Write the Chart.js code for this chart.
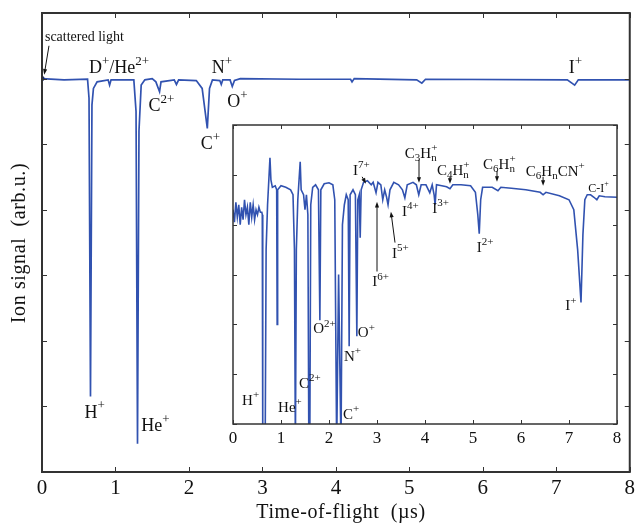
<!DOCTYPE html>
<html>
<head>
<meta charset="utf-8">
<script src="https://cdn.jsdelivr.net/npm/chart.js@4/dist/chart.umd.min.js"></script>
<style>
  body { margin: 0; background: #fff; }
  #wrap { position: relative; width: 639px; height: 523px; }
  #mainChart { position: absolute; left: 0; top: 0; }
  #insetChart { position: absolute; left: 200px; top: 112px; }
</style>
</head>
<body>
<div id="wrap">
  <canvas id="mainChart" width="639" height="523"></canvas>
  <canvas id="insetChart" width="430" height="345"></canvas>
</div>
<script>
// main spectrum (time in us, signal in arb.u., baseline = 0)
const mainTime = [0.00, 0.30, 0.62, 0.64, 0.66, 0.68, 0.70, 0.75, 0.90, 0.92, 0.94, 1.25, 1.28, 1.30, 1.32, 1.35, 1.40,
  1.50, 1.55, 1.60, 1.62, 1.80, 1.83, 1.86, 2.10, 2.18, 2.25, 2.28, 2.32, 2.42, 2.44, 2.46, 2.56, 2.59, 2.62, 2.70,
  3.50, 4.20, 4.22, 4.25, 5.10, 5.17, 5.22, 7.15, 7.25, 7.30, 8.00];
const mainSignal = [0.00, -0.02, -0.01, -0.3, -4.85, -0.4, -0.15, -0.05, -0.02, -0.1, -0.02, -0.02, -0.5, -5.57, -0.8, -0.1, -0.02,
  0.0, -0.05, -0.2, -0.05, -0.02, -0.09, -0.02, -0.03, -0.15, -0.76, -0.15, -0.02, -0.03, -0.09, -0.02, -0.02, -0.12, -0.03, 0.0,
  -0.01, -0.01, -0.05, 0.0, -0.02, -0.07, -0.01, -0.02, -0.1, -0.02, -0.02];

// inset spectrum (zoomed signal)
const insetTime = [0.00, 0.03, 0.06, 0.09, 0.12, 0.15, 0.18, 0.21, 0.24, 0.27, 0.30, 0.33, 0.36, 0.39, 0.42, 0.45, 0.48, 0.51,
  0.54, 0.57, 0.60, 0.61, 0.62, 0.64, 0.67, 0.69, 0.72, 0.77, 0.79, 0.82, 0.88, 0.91, 0.92, 0.93, 1.00, 1.10, 1.20, 1.25,
  1.28, 1.30, 1.32, 1.35, 1.40, 1.42, 1.47, 1.50, 1.53, 1.56, 1.58, 1.60, 1.62, 1.66, 1.72, 1.78, 1.81, 1.83, 1.90, 2.00,
  2.08, 2.12, 2.16, 2.20, 2.25, 2.28, 2.32, 2.36, 2.40, 2.42, 2.44, 2.50, 2.55, 2.58, 2.60, 2.63, 2.65, 2.67, 2.72, 2.80,
  2.88, 2.92, 2.98, 3.02, 3.08, 3.12, 3.16, 3.20, 3.23, 3.27, 3.35, 3.45, 3.53, 3.58, 3.63, 3.75, 3.82, 3.87, 3.92, 4.02,
  4.10, 4.15, 4.19, 4.21, 4.24, 4.35, 4.45, 4.52, 4.58, 4.75, 4.95, 5.05, 5.10, 5.13, 5.16, 5.20, 5.40, 5.52, 5.58, 5.80,
  6.10, 6.40, 6.46, 6.52, 6.80, 7.00, 7.10, 7.18, 7.25, 7.29, 7.33, 7.38, 7.45, 7.52, 7.58, 7.63, 7.75, 8.00];
const insetSignal = [-0.7, -0.95, -0.55, -0.85, -0.6, -1.0, -0.65, -0.9, -0.5, -0.8, -0.65, -1.0, -0.55, -0.85, -0.6, -0.9, -0.7, -0.8,
  -0.65, -0.75, -0.75, -0.8, -5.5, -5.5, -5.5, -1.5, -0.6, 0.34, -0.1, -0.25, -0.22, -0.3, -3.0, -0.3, -0.22, -0.25, -0.3, -0.4,
  -1.5, -5.5, -1.5, -0.5, 0.26, -0.3, -0.4, -0.7, -0.4, -0.8, -5.5, -5.5, -0.6, -0.25, -0.2, -0.3, -2.92, -0.3, -0.18, -0.16,
  -0.2, -0.5, -5.5, -2.0, -5.5, -1.0, -0.6, -0.4, -0.5, -3.44, -0.4, -0.3, -0.4, -3.24, -0.5, -0.4, -1.26, -0.3, -0.15, -0.12,
  -0.2, -0.15, -0.36, -0.15, -0.2, -0.5, -0.3, -0.45, -0.6, -0.3, -0.15, -0.2, -0.3, -0.46, -0.2, -0.15, -0.2, -0.4, -0.2, -0.2,
  -0.36, -0.2, -0.4, -0.6, -0.2, -0.22, -0.24, -0.28, -0.2, -0.2, -0.22, -0.35, -0.8, -1.18, -0.5, -0.25, -0.25, -0.32, -0.25, -0.27,
  -0.3, -0.35, -0.4, -0.35, -0.42, -0.5, -0.7, -1.5, -2.56, -1.2, -0.5, -0.4, -0.4, -0.45, -0.5, -0.42, -0.44, -0.45];

const timeTicks = [0, 1, 2, 3, 4, 5, 6, 7, 8];

// peak labels: [text, x, y] in data units (_{} subscript, ^{} superscript)
const mainLabels = [
  ["D^{+}/He^{2+}", 0.64, 0.09], ["C^{2+}", 1.45, -0.5], ["N^{+}", 2.31, 0.09], ["O^{+}", 2.52, -0.44],
  ["C^{+}", 2.16, -1.07], ["H^{+}", 0.58, -5.17], ["He^{+}", 1.35, -5.37], ["I^{+}", 7.17, 0.09]
];
const insetLabels = [
  ["H^{+}", 0.19, -4.62], ["He^{+}", 0.94, -4.76], ["C^{2+}", 1.375, -4.28], ["O^{2+}", 1.67, -3.18],
  ["N^{+}", 2.31, -3.74], ["O^{+}", 2.6, -3.26], ["C^{+}", 2.29, -4.9], ["I^{7+}", 2.5, 0.0],
  ["I^{6+}", 2.9, -2.24], ["I^{5+}", 3.31, -1.66], ["I^{4+}", 3.52, -0.82], ["C_{3}H_{n}^{+}", 3.58, 0.34],
  ["C_{4}H_{n}^{+}", 4.25, 0.0], ["C_{6}H_{n}^{+}", 5.21, 0.12], ["C_{6}H_{n}CN^{+}", 6.1, -0.02],
  ["I^{3+}", 4.15, -0.76], ["I^{2+}", 5.08, -1.54], ["I^{+}", 6.92, -2.72]
];
// arrows: [x0, y0, x1, y1], head at the second point
const mainArrows = [[0.095, 0.5, 0.03, 0.06]];
const insetArrows = [
  [2.69, -0.04, 2.77, -0.18], [3.0, -1.94, 3.0, -0.54], [3.375, -1.36, 3.29, -0.74], [3.875, 0.3, 3.875, -0.16],
  [4.52, -0.04, 4.52, -0.18], [5.5, 0.08, 5.5, -0.14], [6.46, -0.04, 6.46, -0.22]
];

const LINE_COLOR = "#3152b0";
const SERIF = '"Liberation Serif", "Times New Roman", serif';

function drawRich(ctx, text, x, y, size) {
  const re = /([_^])\{([^}]*)\}|([^_^]+)/g;
  let cx = x, m, subStart = null;
  ctx.textAlign = "left";
  ctx.textBaseline = "alphabetic";
  while ((m = re.exec(text))) {
    if (m[3]) {
      ctx.font = `${size}px ${SERIF}`;
      ctx.fillText(m[3], cx, y);
      cx += ctx.measureText(m[3]).width;
      subStart = null;
    } else {
      ctx.font = `${Math.round(size * 0.7)}px ${SERIF}`;
      const w = ctx.measureText(m[2]).width;
      if (m[1] === "_") {
        ctx.fillText(m[2], cx, y + size * 0.22);
        subStart = cx;
        cx += w;
      } else {
        const sx = subStart !== null ? subStart : cx;
        ctx.fillText(m[2], sx, y - size * 0.45);
        cx = Math.max(cx, sx + w);
        subStart = null;
      }
    }
  }
}

function drawArrow(ctx, x0, y0, x1, y1) {
  const ang = Math.atan2(y1 - y0, x1 - x0);
  const h = 6;
  ctx.beginPath();
  ctx.moveTo(x0, y0);
  ctx.lineTo(x1 - Math.cos(ang) * h * 0.8, y1 - Math.sin(ang) * h * 0.8);
  ctx.stroke();
  ctx.beginPath();
  ctx.moveTo(x1, y1);
  ctx.lineTo(x1 - h * Math.cos(ang - 0.35), y1 - h * Math.sin(ang - 0.35));
  ctx.lineTo(x1 - h * Math.cos(ang + 0.35), y1 - h * Math.sin(ang + 0.35));
  ctx.closePath();
  ctx.fill();
}

// frame with inward ticks, peak labels and arrows
const framePlugin = {
  id: "frame",
  afterDraw(chart, args, opts) {
    const { ctx, chartArea: a, scales: { x, y } } = chart;
    ctx.save();
    ctx.strokeStyle = "#333";
    ctx.lineWidth = opts.border;
    ctx.strokeRect(a.left, a.top, a.right - a.left, a.bottom - a.top);
    ctx.lineWidth = 1;
    ctx.beginPath();
    x.ticks.forEach((t) => {
      const px = Math.round(x.getPixelForValue(t.value)) + 0.5;
      ctx.moveTo(px, a.bottom); ctx.lineTo(px, a.bottom - opts.tick);
      ctx.moveTo(px, a.top); ctx.lineTo(px, a.top + opts.tick);
    });
    y.ticks.forEach((t) => {
      const py = Math.round(y.getPixelForValue(t.value)) + 0.5;
      ctx.moveTo(a.left, py); ctx.lineTo(a.left + opts.tick, py);
      ctx.moveTo(a.right, py); ctx.lineTo(a.right - opts.tick, py);
    });
    ctx.stroke();

    ctx.fillStyle = "#111";
    ctx.strokeStyle = "#111";
    ctx.lineWidth = 1;
    opts.labels.forEach(([txt, lx, ly]) => {
      drawRich(ctx, txt, x.getPixelForValue(lx), y.getPixelForValue(ly), opts.size);
    });
    opts.arrows.forEach(([x0, y0, x1, y1]) => {
      drawArrow(ctx, x.getPixelForValue(x0), y.getPixelForValue(y0), x.getPixelForValue(x1), y.getPixelForValue(y1));
    });
    if (opts.extra) opts.extra(chart);
    ctx.restore();
  },
};

function makeChart(id, times, signal, cfg) {
  return new Chart(document.getElementById(id), {
    type: "line",
    data: {
      datasets: [
        {
          data: times.map((t, i) => ({ x: t, y: signal[i] })),
          borderColor: LINE_COLOR,
          borderWidth: cfg.lineWidth,
          pointRadius: cfg.pointRadius,
          pointBackgroundColor: "#1a2a66",
          pointBorderWidth: 0,
          fill: false,
          tension: 0,
          clip: 0,
        },
      ],
    },
    options: {
      responsive: false,
      animation: false,
      events: [],
      layout: { padding: cfg.padding },
      plugins: {
        legend: { display: false },
        tooltip: { enabled: false },
        frame: {
          border: cfg.border,
          tick: cfg.tick,
          labels: cfg.labels,
          arrows: cfg.arrows,
          size: cfg.labelSize,
          extra: cfg.extra,
        },
      },
      scales: {
        x: {
          type: "linear",
          min: 0,
          max: 8,
          afterBuildTicks: (s) => { s.ticks = timeTicks.map((v) => ({ value: v })); },
          afterFit: (s) => { s.height = cfg.xHeight; },
          grid: { display: false, drawTicks: false },
          border: { display: false },
          ticks: {
            padding: cfg.tickPad,
            color: "#111",
            maxRotation: 0,
            font: { family: SERIF, size: cfg.tickSize },
          },
        },
        y: {
          type: "linear",
          min: cfg.yMin,
          max: 1,
          ticks: { display: false, stepSize: 1 },
          afterFit: (s) => { s.width = cfg.yWidth; },
          grid: { display: false, drawTicks: false },
          border: { display: false },
        },
      },
    },
    plugins: [framePlugin],
  });
}

makeChart("mainChart", mainTime, mainSignal, {
  lineWidth: 1.7,
  pointRadius: mainTime.map((t, i) => (i === 0 ? 2.5 : 0)),
  padding: { top: 13, right: 6, left: 0, bottom: 0 },
  border: 2,
  tick: 5,
  labels: mainLabels,
  arrows: mainArrows,
  labelSize: 18,
  yMin: -6,
  xHeight: 51,
  yWidth: 42,
  tickPad: 4,
  tickSize: 21,
  extra: (chart) => {
    const ctx = chart.ctx;
    const { x, y } = chart.scales;
    ctx.font = `14px ${SERIF}`;
    ctx.textAlign = "left";
    ctx.fillText("scattered light", x.getPixelForValue(0.04), y.getPixelForValue(0.58));
    ctx.font = `20px ${SERIF}`;
    ctx.letterSpacing = "0.6px";
    ctx.textAlign = "center";
    ctx.fillText("Time-of-flight  (\u00b5s)", 341, 518);
    ctx.save();
    ctx.translate(25, 243);
    ctx.rotate(-Math.PI / 2);
    ctx.fillText("Ion signal  (arb.u.)", 0, 0);
    ctx.restore();
    ctx.letterSpacing = "0px";
  },
});

makeChart("insetChart", insetTime, insetSignal, {
  lineWidth: 1.6,
  pointRadius: 0,
  padding: { top: 13, right: 13, left: 0, bottom: 0 },
  border: 1.5,
  tick: 4,
  labels: insetLabels,
  arrows: insetArrows,
  labelSize: 15,
  yMin: -5,
  xHeight: 33,
  yWidth: 33,
  tickPad: 4,
  tickSize: 17,
  extra: (chart) => {
    const { x, y } = chart.scales;
    drawRich(chart.ctx, "C-I^{+}", x.getPixelForValue(7.4), y.getPixelForValue(-0.34), 12);
  },
});
</script>
</body>
</html>
